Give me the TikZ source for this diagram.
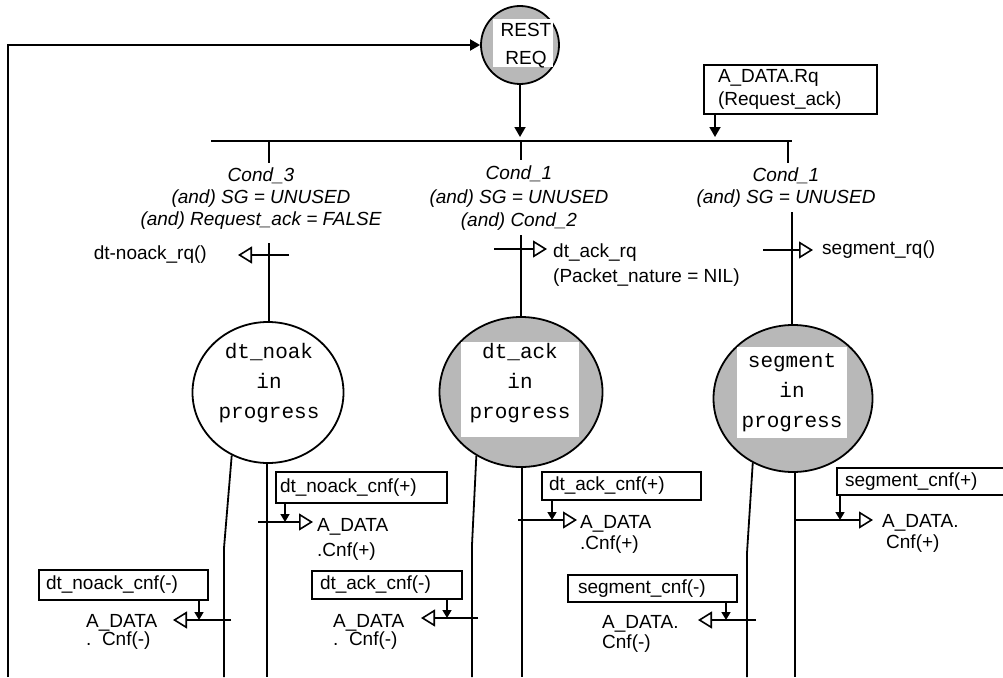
\documentclass[tikz,border=0pt]{standalone}
\usepackage{fontspec}
\setmainfont{Liberation Sans}
\newfontfamily\monofam{Liberation Mono}
\usetikzlibrary{arrows.meta,shapes.geometric}
\begin{document}
\begin{tikzpicture}[x=1pt,y=-1pt,
  ln/.style={line width=1.8pt},
  flow/.style={line width=1.8pt,-{Triangle[length=10pt,width=11pt]}},
  smallarr/.style={line width=1.6pt,-{Triangle[length=8pt,width=9pt]}},
  outarr/.style={line width=1.6pt,-{Triangle[open,length=14pt,width=17pt,line width=1.6pt]}},
  state/.style={ellipse,draw,line width=1.8pt,inner sep=0pt},
  shaded/.style={fill=black!28},
  whitebg/.style={fill=white,inner sep=0pt,rectangle},
  txt/.style={inner sep=0pt,align=left},
  cond/.style={inner sep=0pt,align=center,font=\fontsize{19}{22}\selectfont\itshape},
  mono/.style={inner sep=0pt,align=center,font=\fontsize{21}{30}\selectfont\monofam},
  cnfbox/.style={draw,line width=1.6pt,rectangle,align=left,inner ysep=0pt,font=\fontsize{19}{23}\selectfont},
]
\clip (0,0) rectangle (1003,677);
\fill[white] (0,0) rectangle (1003,677);

% ---------- REST REQ ----------
\node[state,shaded,minimum width=78pt,minimum height=78pt] (rest) at (520,45) {};
\node[whitebg,minimum width=60pt,minimum height=48pt] (restbg) at (523,43) {};
\node[inner sep=0pt,align=center,anchor=north,font=\fontsize{19}{28}\selectfont] (restlbl) at (526,23) {REST\\REQ};

% loop back
\coordinate (loopbot) at (8,677);
\draw[flow] (loopbot) |- (rest.west);

% bus
\coordinate (busL) at (211,141);
\coordinate (busR) at (792,141);
\draw[ln] (busL) -- (busR);
\coordinate (busin1) at (520,137);
\draw[flow] (rest.south) -- (busin1);

% A_DATA.Rq
\node[cnfbox,minimum width=173pt,minimum height=49pt,text width=145pt,inner xsep=14pt] (rq) at (790.5,89.5) {A\_DATA.Rq\\(Request\_ack)};
\coordinate (busin2) at (715,137);
\draw[flow] (rq.south -| busin2) -- (busin2);

% ---------- states ----------
\node[state,minimum width=151pt,minimum height=141pt] (noak) at (268,392.5) {};
\node[mono] (noaklbl) at (269,383) {dt\_noak\\in\\progress};

\node[state,shaded,minimum width=163pt,minimum height=150pt] (ack) at (521,392) {};
\node[whitebg,minimum width=118pt,minimum height=95pt] (ackbg) at (520,389.5) {};
\node[mono] (acklbl) at (520,383) {dt\_ack\\in\\progress};

\node[state,shaded,minimum width=159pt,minimum height=147pt] (seg) at (793,398.5) {};
\node[whitebg,minimum width=110pt,minimum height=91pt] (segbg) at (792,392.5) {};
\node[mono] (seglbl) at (792,393) {segment\\in\\progress};

% ---------- branches ----------
\coordinate (b1a) at (269,141); \coordinate (b1b) at (269,163); \coordinate (b1c) at (269,243);
\draw[ln] (b1a) -- (b1b);
\draw[ln] (b1c) -- (noak.north -| b1c);
\coordinate (b2a) at (521,141); \coordinate (b2b) at (521,160); \coordinate (b2c) at (521,235);
\draw[ln] (b2a) -- (b2b);
\draw[ln] (b2c) -- (ack.north -| b2c);
\coordinate (b3a) at (788,141); \coordinate (b3b) at (788,163); \coordinate (b3c) at (792,212);
\draw[ln] (b3a) -- (b3b);
\draw[ln] (b3c) -- (seg.north -| b3c);

% conditions
\node[cond,anchor=north] (c3) at (261,168) {Cond\_3\\(and) SG = UNUSED\\(and) Request\_ack = FALSE};
\node[cond,anchor=north,font=\fontsize{19}{23.5}\selectfont\itshape] (c1m) at (519,166) {Cond\_1\\(and) SG = UNUSED\\(and) Cond\_2};
\node[cond,anchor=north] (c1r) at (786,168) {Cond\_1\\(and) SG = UNUSED};

% actions
\coordinate (a1s) at (289,255); \coordinate (a1e) at (238,255);
\draw[outarr] (a1s) -- (a1e);
\node[txt,anchor=east,font=\fontsize{19}{22}\selectfont] (a1) at (207,255) {dt-noack\_rq()};
\coordinate (a2s) at (494,249); \coordinate (a2e) at (547,249);
\draw[outarr] (a2s) -- (a2e);
\node[txt,anchor=north west,font=\fontsize{19}{25}\selectfont] (a2) at (553,243.4) {dt\_ack\_rq\\(Packet\_nature = NIL)};
\coordinate (a3s) at (763,250); \coordinate (a3e) at (813,250);
\draw[outarr] (a3s) -- (a3e);
\node[txt,anchor=west,font=\fontsize{19}{22}\selectfont] (a3) at (822,250) {segment\_rq()};

% ---------- lower lines ----------
\coordinate (nkbend) at (224,548); \coordinate (nkend) at (224,677);
\draw[ln] (noak.240) -- (nkbend) -- (nkend);
\coordinate (nkv) at (267,677);
\draw[ln] (noak.south -| nkv) -- (nkv);

\coordinate (akbend) at (472,545); \coordinate (akend) at (472,677);
\draw[ln] (ack.235) -- (akbend) -- (akend);
\coordinate (akv) at (522,677);
\draw[ln] (ack.south -| akv) -- (akv);

\coordinate (sgbend) at (747,553); \coordinate (sgend) at (747,677);
\draw[ln] (seg.238) -- (sgbend) -- (sgend);
\coordinate (sgv) at (795,677);
\draw[ln] (seg.south -| sgv) -- (sgv);

% ---------- confirmations ----------
% dt_noack_cnf(+)
\node[cnfbox,minimum width=171pt,minimum height=31pt,text width=163pt,inner xsep=4pt] (nkp) at (361.5,487.5) {dt\_noack\_cnf(+)};
\coordinate (nkpa) at (258,522); \coordinate (nkpb) at (313,522);
\draw[outarr] (nkpa) -- (nkpb);
\coordinate (nkpx) at (285,522);
\draw[smallarr] (nkp.south -| nkpx) -- (nkpx);
\node[txt,anchor=north west,font=\fontsize{19}{25}\selectfont] (nkpt) at (317,518) {A\_DATA\\.Cnf(+)};

% dt_noack_cnf(-)
\node[cnfbox,minimum width=169pt,minimum height=30pt,text width=155pt,inner xsep=7pt] (nkm) at (123.5,585) {dt\_noack\_cnf(-)};
\coordinate (nkma) at (231,620); \coordinate (nkmb) at (173,620);
\draw[outarr] (nkma) -- (nkmb);
\coordinate (nkmx) at (199,620);
\draw[smallarr] (nkm.south -| nkmx) -- (nkmx);
\node[txt,anchor=north west,font=\fontsize{19}{18}\selectfont] (nkmt) at (86,614) {A\_DATA\\.\ \ Cnf(-)};

% dt_ack_cnf(+)
\node[cnfbox,minimum width=159pt,minimum height=28pt,text width=145pt,inner xsep=7pt] (akp) at (621.5,486) {dt\_ack\_cnf(+)};
\coordinate (akpa) at (518,520); \coordinate (akpb) at (577,520);
\draw[outarr] (akpa) -- (akpb);
\coordinate (akpx) at (552,520);
\draw[smallarr] (akp.south -| akpx) -- (akpx);
\node[txt,anchor=north west,font=\fontsize{19}{21}\selectfont] (akpt) at (580,515.7) {A\_DATA\\.Cnf(+)};

% dt_ack_cnf(-)
\node[cnfbox,minimum width=150pt,minimum height=28pt,text width=134pt,inner xsep=8pt] (akm) at (387,585) {dt\_ack\_cnf(-)};
\coordinate (akma) at (478,618); \coordinate (akmb) at (421,618);
\draw[outarr] (akma) -- (akmb);
\coordinate (akmx) at (447,618);
\draw[smallarr] (akm.south -| akmx) -- (akmx);
\node[txt,anchor=north west,font=\fontsize{19}{18}\selectfont] (akmt) at (333,614) {A\_DATA\\.\ \ Cnf(-)};

% segment_cnf(+)
\node[cnfbox,minimum width=173pt,minimum height=27pt,text width=157pt,inner xsep=8pt] (sgp) at (923.5,481.5) {segment\_cnf(+)};
\coordinate (sgpa) at (795,520); \coordinate (sgpb) at (873,520);
\draw[outarr] (sgpa) -- (sgpb);
\coordinate (sgpx) at (840,520);
\draw[smallarr] (sgp.south -| sgpx) -- (sgpx);
\node[txt,anchor=north west,font=\fontsize{19}{21}\selectfont] (sgpt) at (882,514.4) {A\_DATA.\\\hspace*{4pt}Cnf(+)};

% segment_cnf(-)
\node[cnfbox,minimum width=169pt,minimum height=27pt,text width=149pt,inner xsep=10pt] (sgm) at (652.5,588.5) {segment\_cnf(-)};
\coordinate (sgma) at (756,620); \coordinate (sgmb) at (698,620);
\draw[outarr] (sgma) -- (sgmb);
\coordinate (sgmx) at (726,620);
\draw[smallarr] (sgm.south -| sgmx) -- (sgmx);
\node[txt,anchor=north west,font=\fontsize{19}{20}\selectfont] (sgmt) at (602,615.4) {A\_DATA.\\Cnf(-)};
\end{tikzpicture}
\end{document}
